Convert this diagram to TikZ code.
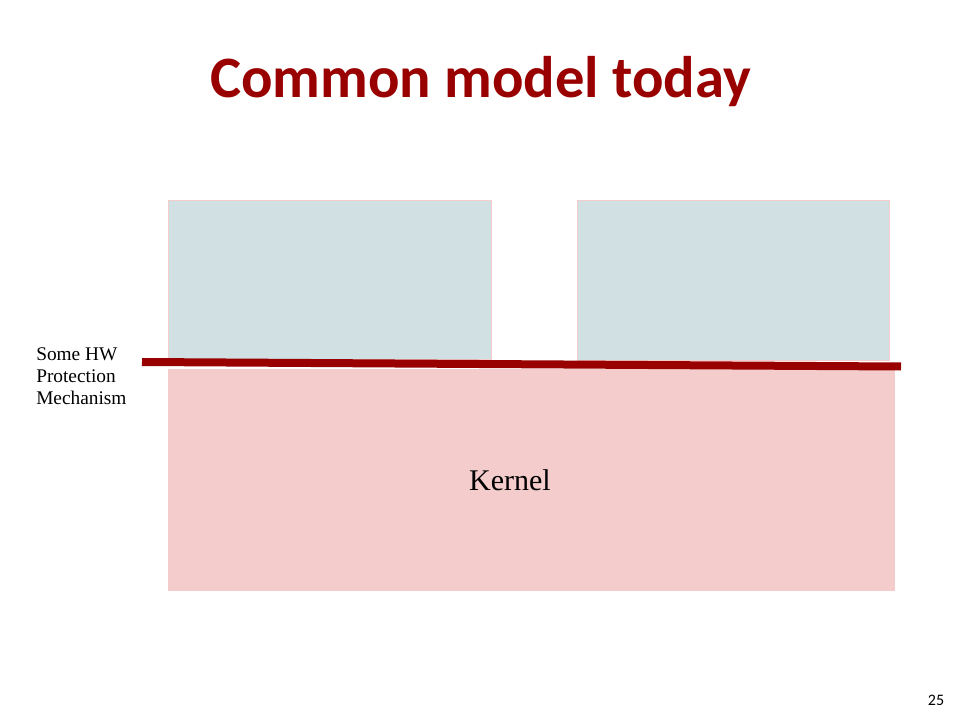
\documentclass[tikz,border=0pt]{standalone}
\usepackage{fontspec}
\setmainfont{Liberation Serif}
\newfontfamily\titlefont{Carlito}
\definecolor{titlered}{HTML}{990000}
\definecolor{userblue}{HTML}{D0E0E3}
\definecolor{kernpink}{HTML}{F4CCCC}
\begin{document}
\begin{tikzpicture}[x=0.75pt,y=-0.75pt,
  userbox/.style={fill=userblue,draw=kernpink,line width=0.75pt},
  kernbox/.style={fill=kernpink,draw=none},
  hwline/.style={draw=titlered,line width=6pt},
  lbl/.style={inner sep=0pt,anchor=base west,align=left,font=\fontsize{14.5}{16.5}\selectfont}]
\useasboundingbox (0,0) rectangle (960,720);
\fill[white] (0,0) rectangle (960,720);
\node[font=\titlefont\bfseries\fontsize{44}{52}\selectfont,text=titlered,inner sep=0pt,anchor=base] (title) at (480.5,98) {Common model today};
\path[userbox] (168,201) rectangle (491,359);
\path[userbox] (577,201) rectangle (889,360);
\path[kernbox] (168,369) rectangle (895,591);
\node[inner sep=0pt,font=\fontsize{22.5}{27}\selectfont] (kernel) at (510,480) {Kernel};
\coordinate (hwA) at (142,362);
\coordinate (hwB) at (901,366.5);
\draw[hwline] (hwA) -- (hwB);
\node[lbl] (hwlabel) at (36,404) {Some HW\\Protection\\Mechanism};
\node[inner sep=0pt,font=\titlefont\fontsize{12}{14}\selectfont] (page) at (936,700) {25};
\end{tikzpicture}
\end{document}
